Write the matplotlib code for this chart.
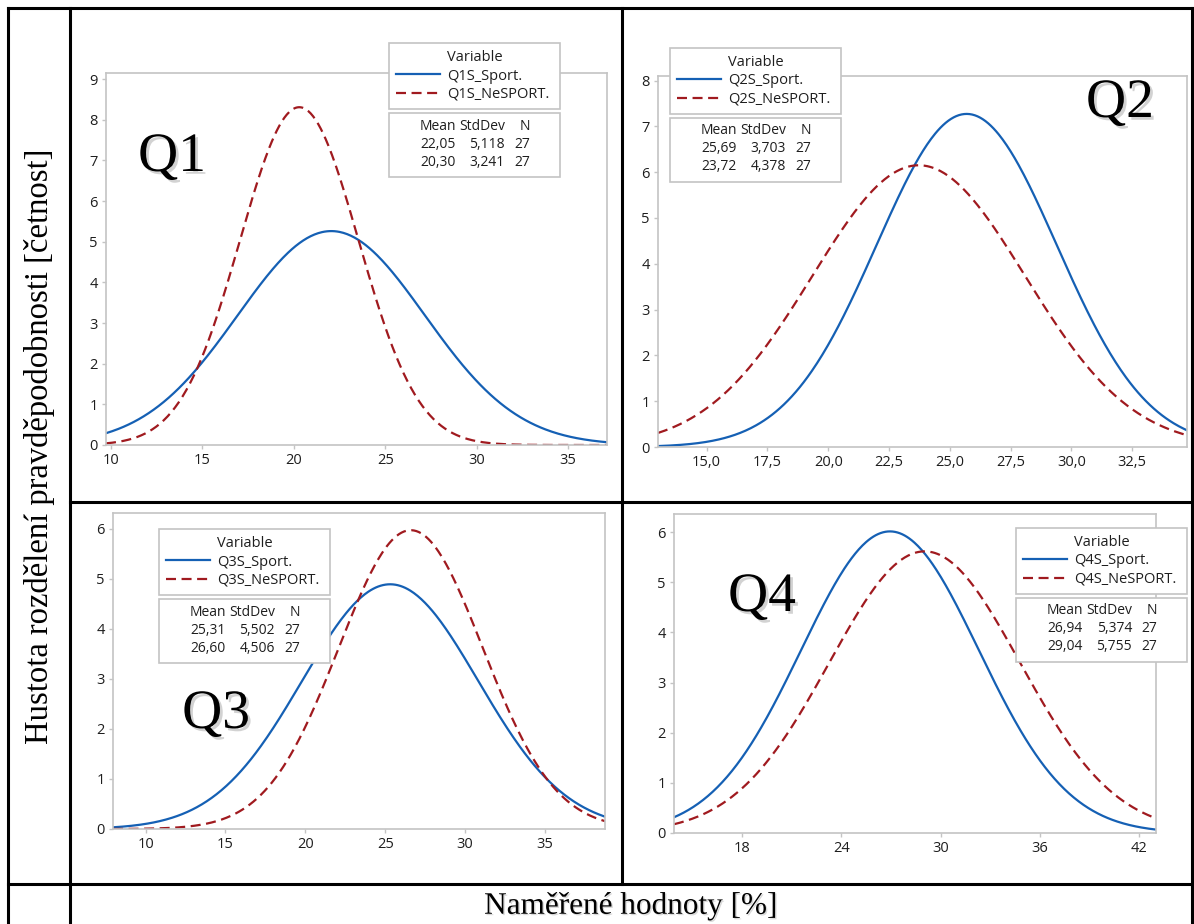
import numpy as np
import matplotlib
matplotlib.use("Agg")
import matplotlib.pyplot as plt
from matplotlib.lines import Line2D
from matplotlib.patches import Rectangle
import matplotlib.patheffects as pe

# --- data (Minitab normal fits, frequency scale) ---
panels = ["Q1", "Q2", "Q3", "Q4"]
labels_sport = ["Q1S_Sport.", "Q2S_Sport.", "Q3S_Sport.", "Q4S_Sport."]
labels_ne = ["Q1S_NeSPORT.", "Q2S_NeSPORT.", "Q3S_NeSPORT.", "Q4S_NeSPORT."]
mean_sport = [22.05, 25.69, 25.31, 26.94]
sd_sport = [5.118, 3.703, 5.502, 5.374]
mean_ne = [20.30, 23.72, 26.60, 29.04]
sd_ne = [3.241, 4.378, 4.506, 5.755]
n_obs = [27, 27, 27, 27]
bin_width = [2.5, 2.5, 2.5, 3.0]
xlims = [(9.73, 37.13), (13.0, 34.75), (7.96, 38.76), (13.88, 43.03)]
ylims = [(0, 9.15), (0, 8.1), (0, 6.32), (0, 6.36)]
xticks = [[10, 15, 20, 25, 30, 35], [15, 17.5, 20, 22.5, 25, 27.5, 30, 32.5],
          [10, 15, 20, 25, 30, 35], [18, 24, 30, 36, 42]]
yticks = [range(0, 10), range(0, 9), range(0, 7), range(0, 7)]

W, H = 1194, 924
fig = plt.figure(figsize=(W / 100, H / 100), dpi=100)

BLUE = "#1560b4"
RED = "#a01a1f"
GRAY = "#c4c4c4"
TXT = "#1e1e1e"
sans = ["Open Sans", "DejaVu Sans"]
serif = ["Liberation Serif", "DejaVu Serif"]


def fx(x):
    return x / W


def fy(y):
    return 1 - y / H


# axes boxes in pixels: left, top, right, bottom
boxes = [(106, 73, 607, 445), (658, 76, 1187, 447), (113, 513, 605, 829), (674, 514, 1156, 833)]
# legend box / stats box left, top (pixels)
leg_pos = [(389, 43), (670, 48), (159, 529), (1016, 528)]
leg_w, leg_h = 171, 64
big_pos = [(172, 157), (1120, 103), (216, 714), (762, 597)]


def fmt(v, i):
    s = ("%.1f" % v) if i == 1 else ("%d" % v)
    return s.replace(".", ",")


def cz(v, d):
    return ("%." + str(d) + "f") % v


for i in range(4):
    l, t, r, b = boxes[i]
    ax = fig.add_axes([fx(l), fy(b), fx(r - l), (b - t) / H])
    x = np.linspace(xlims[i][0], xlims[i][1], 400)
    scale = n_obs[i] * bin_width[i]
    y1 = scale * np.exp(-0.5 * ((x - mean_sport[i]) / sd_sport[i]) ** 2) / (sd_sport[i] * np.sqrt(2 * np.pi))
    y2 = scale * np.exp(-0.5 * ((x - mean_ne[i]) / sd_ne[i]) ** 2) / (sd_ne[i] * np.sqrt(2 * np.pi))
    ax.plot(x, y1, color=BLUE, lw=1.6, label=labels_sport[i])
    ax.plot(x, y2, color=RED, lw=1.6, ls=(0, (4.5, 2.5)), label=labels_ne[i])
    ax.set_xlim(*xlims[i])
    ax.set_ylim(*ylims[i])
    ax.set_xticks(xticks[i])
    ax.set_xticklabels([fmt(v, i) for v in xticks[i]])
    ax.set_yticks(list(yticks[i]))
    for s in ax.spines.values():
        s.set_color(GRAY)
        s.set_linewidth(1.2)
    ax.tick_params(colors=GRAY, labelcolor=TXT, length=3, width=1, pad=3)
    for lab in ax.get_xticklabels() + ax.get_yticklabels():
        lab.set_fontfamily(sans)
        lab.set_fontsize(10.5)

    # legend
    lx, ly = leg_pos[i]
    leg = ax.legend(loc="upper left", bbox_to_anchor=(fx(lx), fy(ly + leg_h), fx(leg_w), leg_h / H),
                    bbox_transform=fig.transFigure, mode="expand", title="Variable",
                    prop={"family": sans, "size": 10.5}, title_fontproperties={"family": sans, "size": 10.5},
                    frameon=True, fancybox=False, edgecolor=GRAY, framealpha=1,
                    handlelength=3.0, handletextpad=0.5, labelspacing=0.22, borderpad=0.5,
                    borderaxespad=0)
    leg.get_frame().set_linewidth(1.2)
    for tx in leg.get_texts():
        tx.set_color(TXT)
    leg.get_title().set_color(TXT)

    # stats box
    sy = ly + leg_h + 6
    fig.add_artist(Rectangle((fx(lx), fy(sy + leg_h)), fx(leg_w), leg_h / H,
                             transform=fig.transFigure, facecolor="white", edgecolor=GRAY,
                             lw=1.2, zorder=5))
    rows = [("Mean", "StdDev", "N"),
            (cz(mean_sport[i], 2), cz(sd_sport[i], 3), str(n_obs[i])),
            (cz(mean_ne[i], 2), cz(sd_ne[i], 3), str(n_obs[i]))]
    cols = [67, 116, 141]
    for k, row in enumerate(rows):
        for c, val in enumerate(row):
            fig.text(fx(lx + cols[c]), fy(sy + 13 + 18 * k), val.replace(".", ","),
                     ha="right", va="center", family=sans, size=10, color=TXT, zorder=6)

    # big panel label
    fig.text(fx(big_pos[i][0]), fy(big_pos[i][1]), panels[i], ha="center", va="center",
             family=serif, size=40, color="black",
             path_effects=[pe.withSimplePatchShadow(offset=(2, -2), shadow_rgbFace="gray", alpha=0.35)])

# table grid (under the axes so the Q4 legend covers the right border)
lw = 2.2
grid = [((8, 8), (1192, 8)), ((8, 8), (8, 930)), ((1192, 8), (1192, 930)),
        ((70, 8), (70, 930)), ((622, 8), (622, 884)),
        ((70, 502), (1192, 502)), ((8, 884), (1192, 884))]
for (x0, y0), (x1, y1) in grid:
    fig.add_artist(Line2D([fx(x0), fx(x1)], [fy(y0), fy(y1)], transform=fig.transFigure,
                          color="black", lw=lw, zorder=-1))

fig.text(fx(40), fy(446), "Hustota rozdělení pravděpodobnosti [četnost]", rotation=90,
         ha="center", va="center", family=serif, size=23.5)
fig.text(fx(631), fy(906), "Naměřené hodnoty [%]", ha="center", va="center", family=serif, size=22.5,
         path_effects=[pe.withSimplePatchShadow(offset=(1, -1), shadow_rgbFace="gray", alpha=0.3)])

fig.savefig("out.png", dpi=100)
